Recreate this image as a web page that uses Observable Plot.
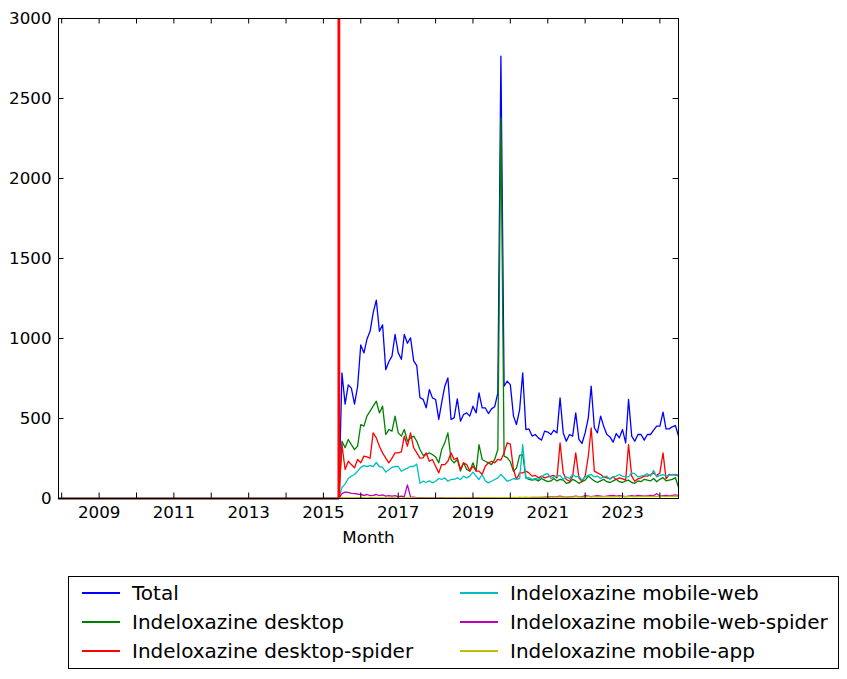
<!DOCTYPE html>
<html>
<head>
<meta charset="utf-8">
<script src="https://cdn.jsdelivr.net/npm/d3@7"></script>
<script src="https://cdn.jsdelivr.net/npm/@observablehq/plot@0.6"></script>
<style>
  html, body { margin: 0; padding: 0; background: #fff; }
  #wrap { position: relative; width: 847px; height: 679px; font-family: "DejaVu Sans", sans-serif; }
  #legend { position: absolute; left: 68px; top: 576px; width: 771px; height: 93px; border: 1px solid #000; box-sizing: border-box; background: #fff; }
  .item { position: absolute; display: flex; align-items: center; height: 28px; font-size: 20px; color: #000; white-space: nowrap; }
  .swatch { width: 38px; height: 1.4px; margin-right: 12px; }
</style>
</head>
<body>
<div id="wrap"><div id="chart"></div><div id="legend"></div></div>
<script>
// ---- data (monthly, 2015-07 .. 2024-07); before that all series are 0 from 2007-12 ----
const seriesNames = ["Total", "Indeloxazine desktop", "Indeloxazine desktop-spider",
  "Indeloxazine mobile-web", "Indeloxazine mobile-web-spider", "Indeloxazine mobile-app"];
const seriesColors = ["#0000ff", "#008000", "#ff0000", "#00bfbf", "#bf00bf", "#bfbf00"];
const firstMonth = "2015-07-01";
const leadInDates = ["2007-12-01", "2015-06-01"];
const leadInValues = [0, 0];
const markerDate = "2015-06-01";
const yTicks = [0, 500, 1000, 1500, 2000, 2500, 3000];

const total = [785,590,710,690,590,700,960,910,995,1045,1160,1240,1045,1085,805,855,890,1025,910,870,
  1025,970,1005,860,830,630,620,567,681,629,619,494,598,702,754,494,504,623,483,525,
  535,515,577,535,660,567,567,531,560,573,660,2765,702,733,712,515,462,556,785,431,
  435,390,400,379,365,421,415,400,427,410,629,410,358,400,390,535,369,344,410,504,
  702,442,410,515,452,400,385,352,406,379,431,348,619,390,358,400,400,365,400,400,
  427,452,452,540,435,435,448,456,390];
const desktop = [358,317,369,337,306,327,462,452,515,546,577,608,535,577,400,431,421,515,410,390,
  431,358,379,390,358,306,270,275,285,275,260,223,306,348,410,244,223,244,171,223,
  181,171,223,171,337,244,233,223,212,244,306,2380,265,255,230,170,190,270,275,130,
  120,115,120,110,125,115,105,110,125,110,120,115,95,100,120,110,95,105,115,140,
  125,110,100,110,120,105,100,110,120,105,100,110,115,100,95,110,105,120,115,110,
  125,105,120,130,110,115,120,130,70];
const desktopSpider = [337,181,233,212,192,244,223,265,260,252,410,379,327,285,252,223,252,285,285,292,
  390,327,410,317,285,252,254,285,233,244,202,160,212,212,233,285,244,254,181,223,
  212,171,202,171,171,150,202,223,233,223,244,240,285,348,340,181,119,160,160,171,
  160,140,144,129,140,129,135,140,144,129,348,160,119,108,140,285,129,108,140,264,
  442,171,160,150,135,129,123,135,119,129,123,115,337,140,108,123,129,140,140,148,
  160,144,160,285,123,150,148,150,140];
const mobileWeb = [70,90,125,140,150,170,195,205,200,205,200,225,200,195,165,180,195,200,200,170,
  180,190,200,200,215,95,108,100,110,98,108,125,119,129,108,119,119,129,119,140,
  129,140,165,140,119,150,110,98,108,119,129,150,130,108,115,125,120,125,337,125,
  130,120,125,120,135,150,155,125,135,140,145,120,135,125,150,135,140,115,135,145,
  150,135,140,125,135,140,120,135,140,150,140,135,135,160,155,135,140,145,155,140,
  175,135,145,150,140,145,150,145,150];
const mobileWebSpider = [30,40,38,32,30,28,25,20,25,18,20,25,18,22,15,18,15,18,12,15,
  12,85,10,8,6,5,5,4,5,3,4,3,5,4,3,4,3,3,4,3,
  5,4,3,4,5,4,3,3,4,3,4,5,4,3,3,4,5,4,6,5,
  4,5,6,5,4,8,10,12,10,12,15,10,8,10,12,15,12,10,18,15,
  12,15,18,15,12,15,18,20,15,18,15,12,15,18,15,20,18,15,18,20,
  18,30,15,18,20,18,20,22,18];
const mobileApp = [5,4,5,3,4,5,6,5,4,5,6,5,4,5,3,4,5,4,3,4,
  5,4,3,4,3,2,3,2,3,2,3,2,3,4,3,2,3,4,3,3,
  4,3,4,3,4,5,4,5,4,5,6,5,6,5,6,7,6,8,7,8,
  7,8,9,8,10,9,8,10,9,8,10,9,10,8,9,11,10,9,10,12,
  10,11,9,10,12,11,10,12,11,10,12,11,13,12,11,12,13,12,14,12,
  13,12,14,13,12,14,13,15,14];

const seriesValues = [total, desktop, desktopSpider, mobileWeb, mobileWebSpider, mobileApp];

// ---- build tables ----
const start = new Date(firstMonth);
const months = d3.utcMonth.range(start, d3.utcMonth.offset(start, total.length));
const rows = [];
seriesNames.forEach((name, s) => {
  leadInDates.forEach((d, k) => rows.push({series: name, date: new Date(d), value: leadInValues[k]}));
  seriesValues[s].forEach((v, i) => rows.push({series: name, date: months[i], value: v}));
});
const xDomain = [new Date(leadInDates[0]), months[months.length - 1]];
const years = d3.utcYear.range(d3.utcYear.ceil(xDomain[0]), xDomain[1]);
const labelYears = years.filter(d => d.getUTCFullYear() % 2 === 1);

const W = 847, H = 560, mL = 58, mR = 169, mT = 18, mB = 62;
const innerW = W - mL - mR, innerH = H - mT - mB, tick = 5.5;

const chart = Plot.plot({
  width: W, height: H,
  marginLeft: mL, marginRight: mR, marginTop: mT, marginBottom: mB,
  style: {fontFamily: "DejaVu Sans", fontSize: "16.7px", color: "#000", background: "#fff"},
  x: {type: "utc", domain: xDomain},
  y: {domain: [0, 3000]},
  marks: [
    ...seriesNames.map((name, s) => Plot.line(rows.filter(r => r.series === name),
      {x: "date", y: "value", stroke: seriesColors[s], strokeWidth: 1.3})),
    Plot.ruleX([new Date(markerDate)], {stroke: "#ff0000", strokeWidth: 2.8}),
    Plot.frame({stroke: "#000", strokeWidth: 1}),
    Plot.ruleX(years, {insetTop: innerH - tick, stroke: "#000"}),
    Plot.ruleX(years, {insetBottom: innerH - tick, stroke: "#000"}),
    Plot.ruleY(yTicks, {insetRight: innerW - tick, stroke: "#000"}),
    Plot.ruleY(yTicks, {insetLeft: innerW - tick, stroke: "#000"}),
    Plot.axisX(labelYears, {tickSize: 0, tickPadding: 8, tickFormat: d3.utcFormat("%Y"), fontSize: 16.7, label: null}),
    Plot.axisY(yTicks, {tickSize: 0, tickPadding: 7, tickFormat: d3.format("d"), fontSize: 16.7, label: null}),
    Plot.text(["Month"], {frameAnchor: "bottom", dy: 44, fontSize: 16.7, text: d => d})
  ]
});
document.getElementById("chart").appendChild(chart);

// ---- legend ----
const legend = document.getElementById("legend");
const colLeft = [13, 391], rowTop = [2, 31, 60];
seriesNames.forEach((name, s) => {
  const col = s < 3 ? 0 : 1, row = s % 3;
  const it = document.createElement("div");
  it.className = "item";
  it.style.left = colLeft[col] + "px";
  it.style.top = rowTop[row] + "px";
  const sw = document.createElement("span");
  sw.className = "swatch";
  sw.style.background = seriesColors[s];
  const tx = document.createElement("span");
  tx.textContent = name;
  it.appendChild(sw); it.appendChild(tx);
  legend.appendChild(it);
});
</script>
</body>
</html>
